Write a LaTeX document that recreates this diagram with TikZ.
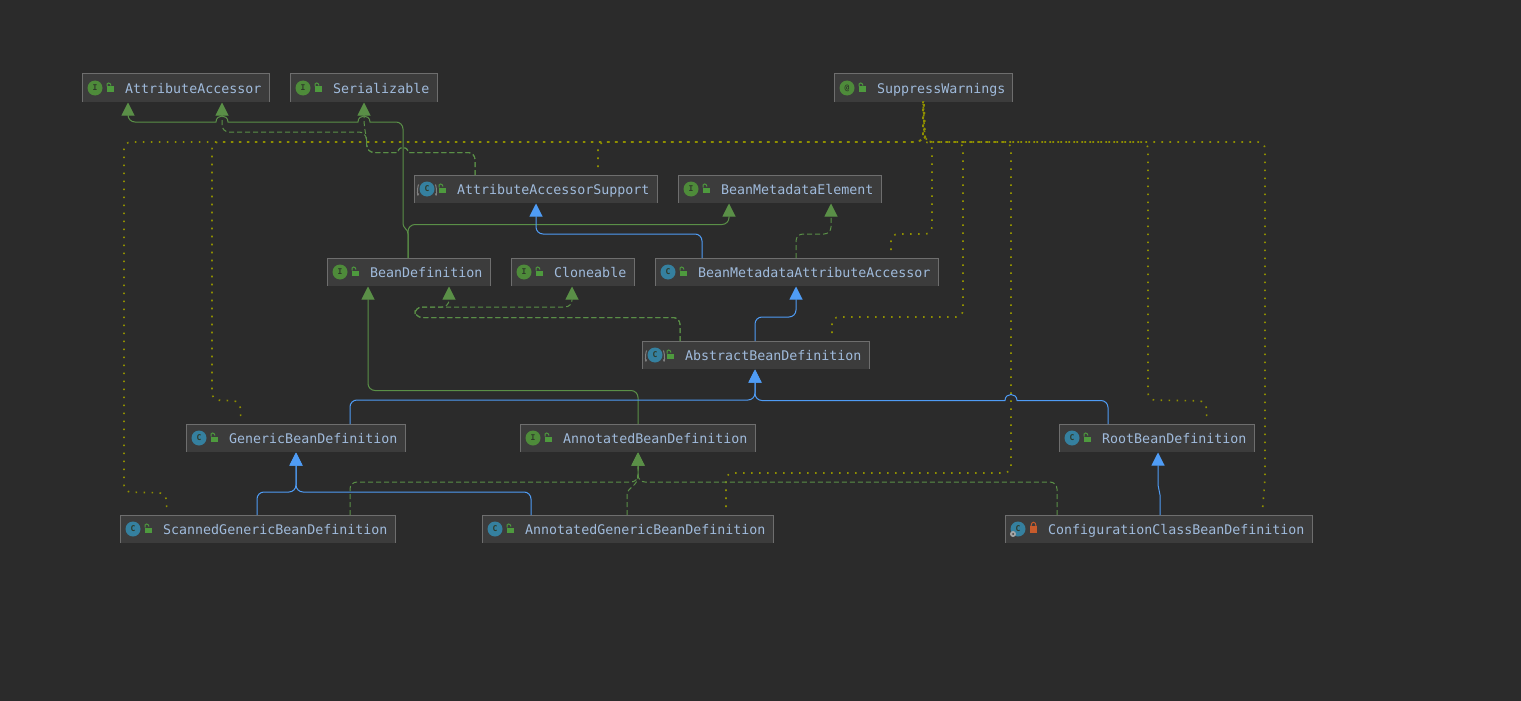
\documentclass[tikz,border=0pt]{standalone}
\usepackage{fontspec}
\setmainfont{DejaVu Sans Mono}
\usetikzlibrary{arrows.meta,calc}
\definecolor{bgc}{HTML}{2B2B2B}
\definecolor{boxc}{HTML}{3C3C3C}
\definecolor{edgec}{HTML}{6E6E6E}
\definecolor{txtc}{HTML}{A0BBDC}
\definecolor{grn}{HTML}{5A8F47}
\definecolor{blu}{HTML}{4F9CF5}
\definecolor{olv}{HTML}{8F8F00}
\definecolor{icog}{HTML}{4E8B3A}
\definecolor{icob}{HTML}{35809F}
\definecolor{lockg}{HTML}{4E9A3E}
\definecolor{locko}{HTML}{C75B2C}
\definecolor{icot}{HTML}{2F3B2A}
\tikzset{
  x=1pt,y=-1pt,
  conn/.style={line width=1pt,rounded corners=7pt},
  gs/.style={conn,draw=grn,shorten >=1pt,-{Triangle[length=13pt,width=13pt,fill=grn]}},
  gd/.style={conn,draw=grn,dash pattern=on 5pt off 3pt,shorten >=1pt,-{Triangle[length=13pt,width=13pt,fill=grn]}},
  bs/.style={conn,draw=blu,shorten >=1pt,-{Triangle[length=13pt,width=13pt,fill=blu]}},
  dotl/.style={line width=1.6pt,draw=olv,rounded corners=7pt,dash pattern=on 1.6pt off 6.4pt,shorten <=8pt},
  boxs/.style={fill=boxc,inner sep=0pt,outer sep=0pt,anchor=north west,minimum height=27.5pt},
  lab/.style={text=txtc,font=\fontsize{13.3}{15}\selectfont,anchor=base west,inner sep=0pt},
  ico/.style={circle,minimum size=15pt,inner sep=0pt,font=\fontsize{8}{9}\selectfont\bfseries,text=icot},
}
\newcommand{\lockopen}[2]{%
  \fill[lockg] (#1-3.5,#2-2.5) rectangle (#1+3.5,#2+3);
  \draw[lockg,line width=1pt] (#1-3.5,#2-2.5) .. controls (#1-4.5,#2-7) and (#1+0,#2-7) .. (#1+0.5,#2-3.5);
}
\newcommand{\bxbase}[7]{% name x1 x2 y1 iconcolor letter text
  \pgfmathsetmacro{\bw}{#3-#2-1}
  \node[boxs,minimum width=\bw pt] (#1) at (#2+0.5,#4) {};
  \draw[edgec,line width=1pt] (#1.south west) -- (#1.north west) -- (#1.north east) -- (#1.south east);
  \node[ico,fill=#5] (#1-i) at (#2+13,#4+14) {#6};
  \node[lab] (#1-t) at (#2+43,#4+19) {#7};
}
\newcommand{\bx}[7]{\bxbase{#1}{#2}{#3}{#4}{#5}{#6}{#7}\lockopen{#2+28.5}{#4+15}}
\begin{document}
\begin{tikzpicture}
\useasboundingbox (0,0) rectangle (1521,701);
\fill[bgc] (0,0) rectangle (1521,701);

\bx{aa}{82}{270}{74}{icog}{I}{AttributeAccessor}
\bx{ser}{290}{438}{74}{icog}{I}{Serializable}
\bx{sup}{834}{1013}{74}{icog}{@}{SuppressWarnings}
\bx{aas}{414}{658}{175}{icob}{C}{AttributeAccessorSupport}
\bx{bme}{678}{882}{175}{icog}{I}{BeanMetadataElement}
\bx{bd}{327}{491}{258}{icog}{I}{BeanDefinition}
\bx{cl}{511}{635}{258}{icog}{I}{Cloneable}
\bx{bmaa}{655}{939}{258}{icob}{C}{BeanMetadataAttributeAccessor}
\bx{abd}{642}{870}{341}{icob}{C}{AbstractBeanDefinition}
\bx{gbd}{186}{406}{424}{icob}{C}{GenericBeanDefinition}
\bx{anbd}{520}{756}{424}{icog}{I}{AnnotatedBeanDefinition}
\bx{rbd}{1059}{1255}{424}{icob}{C}{RootBeanDefinition}
\bx{sgbd}{120}{396}{515}{icob}{C}{ScannedGenericBeanDefinition}
\bx{agbd}{482}{774}{515}{icob}{C}{AnnotatedGenericBeanDefinition}
\bxbase{ccbd}{1005}{1313}{515}{icob}{C}{ConfigurationClassBeanDefinition}

% abstract-class brackets round the icons
\foreach \n in {aas-i,abd-i}{
  \draw[gray,line width=1pt] ([xshift=-0.7pt,yshift=4.5pt]\n.west) .. controls +(-1.5,3) and +(-1.5,6) .. ([xshift=-0.7pt,yshift=-4.5pt]\n.west);
  \draw[gray,line width=1pt] ([xshift=0.7pt,yshift=4.5pt]\n.east) .. controls +(1.5,3) and +(1.5,6) .. ([xshift=0.7pt,yshift=-4.5pt]\n.east);
}
% private class: orange lock and small gear
\fill[locko] (1030,526) rectangle (1037,533);
\draw[locko,line width=1pt] (1031,526) .. controls (1031,521) and (1036,521) .. (1036,526);
\fill[gray!70] (1013,534) circle (3pt);
\fill[boxc] (1013,534) circle (1pt);

% ---- dotted @SuppressWarnings usages
\draw[dotl] (167,0 |- sgbd.north) -- (166,493) -- (124,492) -- (124,142) -- (923,142) -- (923,0 |- sup.south);
\draw[dotl] (241,0 |- gbd.north) -- (240,401) -- (212,400) -- (212,142) -- (923,142) -- (923,0 |- sup.south);
\draw[dotl] (598,0 |- aas.north) -- (598,142) -- (923,142) -- (923.7,0 |- sup.south);
\draw[dotl] (891,0 |- bmaa.north) -- (891,234) -- (932,234) -- (932,142) -- (924,142) -- (924,0 |- sup.south);
\draw[dotl] (832,0 |- abd.north) -- (832,317) -- (963,317) -- (963,142) -- (925,142) -- (924,0 |- sup.south);
\draw[dotl] (726,0 |- agbd.north) -- (726,473) -- (1011,473) -- (1011,142) -- (925,142) -- (924,0 |- sup.south);
\draw[dotl] (1207,0 |- rbd.north) -- (1206,401) -- (1148,400) -- (1148,142) -- (925,142) -- (923,0 |- sup.south);
\draw[dotl] (1262,0 |- ccbd.north) -- (1265,480) -- (1265,142) -- (925,142) -- (923,0 |- sup.south);

% ---- solid green: interface inheritance
\draw[gs,sharp corners] (408,0 |- bd.north) -- (408,234) .. controls (408,228) and (403,230) .. (403,222) [rounded corners=7pt] -- (403,122) [sharp corners] -- (370,122) .. controls (370,114) and (358,114) .. (358,122) -- (228,122) .. controls (228,114) and (216,114) .. (216,122) [rounded corners=7pt] -- (128,122) -- (128,0 |- aa.south);
\draw[gs] (408,0 |- bd.north) -- (408,224.5) -- (729,224.5) -- (729,0 |- bme.south);
\draw[gs] (638,0 |- anbd.north) -- (638,390.5) -- (368,390.5) -- (368,0 |- bd.south);

% ---- dashed green: implements
\draw[gd] (475,0 |- aas.north) -- (475,152.5) [sharp corners] -- (408,152.5) .. controls (408,145.5) and (398,145.5) .. (398,152.5) [rounded corners=7pt] -- (367,152.5) -- (367,140) -- (364,126) -- (364,0 |- ser.south);
\draw[gd] (475,0 |- aas.north) -- (475,152.5) [sharp corners] -- (408,152.5) .. controls (408,145.5) and (398,145.5) .. (398,152.5) [rounded corners=7pt] -- (367,152.5) -- (366,132) -- (222,132) -- (222,0 |- aa.south);
\draw[gd] (796,0 |- bmaa.north) -- (796,234) -- (831,234) -- (831,0 |- bme.south);
\draw[gd] (680,0 |- abd.north) -- (680,317.5) -- (415,317.5) -- (415,307) -- (449,307) -- (449,0 |- bd.south);
\draw[gd] (680,0 |- abd.north) -- (680,317.5) -- (415,317.5) -- (415,307) -- (572,307) -- (572,0 |- cl.south);
\draw[gd] (350,0 |- sgbd.north) -- (350,482) -- (638,482) -- (638,0 |- anbd.south);
\draw[gd,sharp corners] (627,0 |- agbd.north) -- (627,495) .. controls (627,487) and (638,487) .. (638,475) -- (638,0 |- anbd.south);
\draw[gd] (1057,0 |- ccbd.north) -- (1057,482) -- (638,482) -- (638,0 |- anbd.south);

% ---- solid blue: class inheritance
\draw[bs] (702,0 |- bmaa.north) -- (702,234) -- (536,234) -- (536,0 |- aas.south);
\draw[bs] (755,0 |- abd.north) -- (755,317) -- (796,317) -- (796,0 |- bmaa.south);
\draw[bs] (350,0 |- gbd.north) -- (350,400) -- (755,400) -- (755,0 |- abd.south);
\draw[bs] (1108,0 |- rbd.north) -- (1108,400.5) [sharp corners] -- (1017,400.5) .. controls (1017,392.5) and (1005,392.5) .. (1005,400.5) [rounded corners=7pt] -- (755,400.5) -- (755,0 |- abd.south);
\draw[bs] (257,0 |- sgbd.north) -- (257,492) -- (296,492) -- (296,0 |- gbd.south);
\draw[bs] (531,0 |- agbd.north) -- (531,492) -- (296,492) -- (296,0 |- gbd.south);
\draw[bs,sharp corners] (1160,0 |- ccbd.north) -- (1160,495) -- (1158,485) -- (1158,0 |- rbd.south);
\end{tikzpicture}
\end{document}
